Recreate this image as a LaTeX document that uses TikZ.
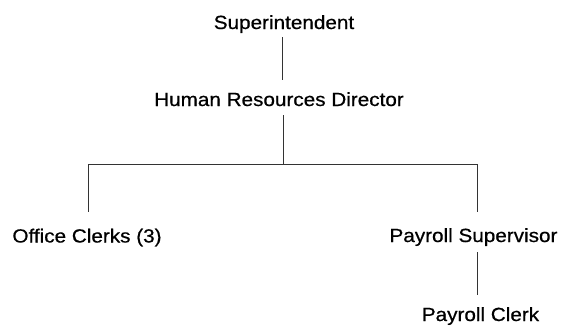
\documentclass[tikz,border=0pt]{standalone}
\usepackage{fontspec}
\usepackage{graphicx}
\setmainfont{Liberation Sans}[FakeBold=0.6]
\begin{document}
\begin{tikzpicture}[x=1pt,y=-1pt,
  lbl/.style={anchor=base,inner sep=0pt,text height=15pt,text depth=4.5pt,
    font=\fontsize{20.7}{24}\selectfont},
  conn/.style={draw=black!80,line width=0.8pt}]
\useasboundingbox (0,0) rectangle (562,325);
\newcommand{\sq}[1]{\scalebox{1}[0.92]{#1}}
\node[lbl] (sup) at (284,29) {\sq{Superintendent}};
\node[lbl] (hrd) at (279,106) {\sq{Human Resources Director}};
\node[lbl] (oc) at (87,242.5) {\sq{Office Clerks (3)}};
\node[lbl] (ps) at (473.5,242) {\sq{Payroll Supervisor}};
\node[lbl] (pc) at (480.5,321) {\sq{Payroll Clerk}};
\coordinate (k) at (282,0);
\coordinate (j) at (283,164);
\coordinate (jl) at (88,164);
\coordinate (jr) at (477,164);
\draw[conn,shorten <=3.5pt,shorten >=11pt] (sup.south -| k) -- (hrd.north -| k);
\draw[conn,shorten <=4.5pt] (hrd.south -| j) -- (j);
\draw[conn] (jl) -- (jr);
\draw[conn,shorten >=15pt] (jl) -- (oc.north -| jl);
\draw[conn,shorten >=15pt] (jr) -- (ps.north -| jr);
\draw[conn,shorten <=5.5pt,shorten >=11pt] (ps.south -| jr) -- (pc.north -| jr);
\end{tikzpicture}
\end{document}
